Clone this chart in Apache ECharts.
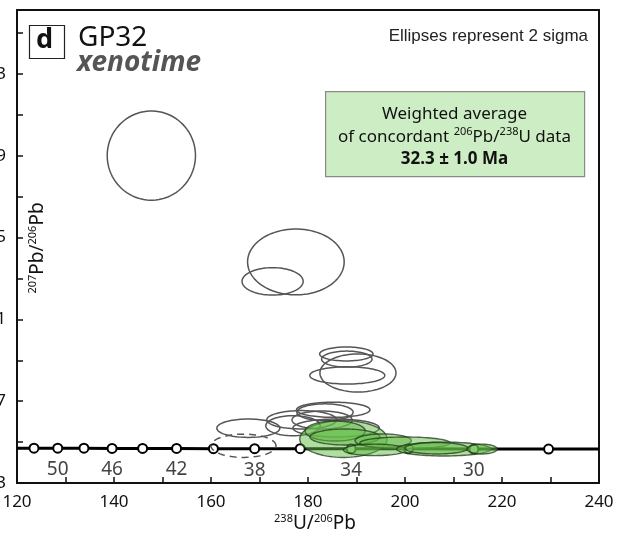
<!DOCTYPE html>
<html>
<head>
<meta charset="utf-8">
<script src="https://cdn.jsdelivr.net/npm/echarts@6/dist/echarts.min.js"></script>
<style>
  html, body { margin: 0; padding: 0; background: #fff; }
  #chart { width: 629px; height: 537px; }
</style>
</head>
<body>
<div id="chart"></div>
<script>
// Concordia age markers (Ma) with their 238U/206Pb and 207Pb/206Pb positions
const concordiaAge    = [52, 50, 48, 46, 44, 42, 40, 38, 36, 34, 32, 30, 28];
const concordiaU238   = [123.5, 128.4, 133.8, 139.6, 145.9, 152.9, 160.5, 169.0, 178.4, 188.9, 200.7, 214.2, 229.6];
const concordiaPb207  = [0.0470, 0.0470, 0.0470, 0.0469, 0.0469, 0.0469, 0.0468, 0.0468, 0.0468, 0.0467, 0.0467, 0.0466, 0.0466];
const labeledAges     = [50, 46, 42, 38, 34, 30];
// Concordia curve ends at the plot edges
const concordiaEndU238  = [120, 240];
const concordiaEndPb207 = [0.0470, 0.0466];

// Discordant analyses (2 sigma ellipses): centre and half-widths
const grayU238   = [147.7, 177.5, 172.7, 187.9, 188.0, 190.3, 188.1, 185.2, 183.5, 178.7, 182.9, 176.9, 167.7, 185.8];
const grayPb207  = [0.1901, 0.1381, 0.1286, 0.0931, 0.0906, 0.0838, 0.0826, 0.0658, 0.0646, 0.0609, 0.0608, 0.0580, 0.0568, 0.0569];
const grayErrU   = [9.1, 9.96, 6.3, 5.5, 5.2, 7.84, 7.73, 7.57, 5.8, 7.2, 6.2, 5.6, 6.5, 8.9];
const grayErrPb  = [0.0218, 0.0161, 0.0067, 0.0034, 0.0039, 0.0093, 0.0042, 0.0037, 0.0041, 0.0045, 0.0044, 0.0049, 0.0045, 0.0044];

// Excluded analysis (dashed)
const dashedU238  = [166.7];
const dashedPb207 = [0.0482];
const dashedErrU  = [6.7];
const dashedErrPb = [0.0057];

// Concordant analyses used in the weighted average
const greenU238  = [187.3, 185.6, 187.6, 195.5, 200.0, 193.8, 208.0, 206.5, 215.9];
const greenPb207 = [0.0515, 0.0554, 0.0525, 0.0507, 0.0496, 0.0462, 0.0466, 0.0470, 0.0466];
const greenErrU  = [9.0, 6.2, 7.2, 5.8, 9.3, 6.5, 9.7, 6.5, 3.1];
const greenErrPb = [0.0090, 0.0049, 0.0039, 0.0033, 0.0029, 0.0028, 0.0034, 0.0028, 0.0024];

// Axes
const xMin = 120, xMax = 240, xStep = 20;
const yMin = 0.03, yMax = 0.2613, yStep = 0.02;

function zip4(a, b, c, d) { return a.map((v, i) => [v, b[i], c[i], d[i]]); }

function ellipseRenderer(style) {
  return function (params, api) {
    const cx = api.value(0), cy = api.value(1), ex = api.value(2), ey = api.value(3);
    const pts = [];
    const n = 90;
    for (let i = 0; i < n; i++) {
      const a = (i / n) * Math.PI * 2;
      pts.push(api.coord([cx + ex * Math.cos(a), cy + ey * Math.sin(a)]));
    }
    return { type: 'polygon', shape: { points: pts }, style: Object.assign({}, style) };
  };
}

const lineX = [concordiaEndU238[0]].concat(concordiaU238, [concordiaEndU238[1]]);
const lineY = [concordiaEndPb207[0]].concat(concordiaPb207, [concordiaEndPb207[1]]);
const lineData = lineX.map((x, i) => [x, lineY[i]]);
const markerData = concordiaU238.map((x, i) => [x, concordiaPb207[i], concordiaAge[i]]);
const labelData = markerData.filter(d => labeledAges.indexOf(d[2]) >= 0);

const supRich = {
  sup: { fontSize: 11, lineHeight: 12, verticalAlign: 'top', fontFamily: 'Noto Sans', fill: '#111' }
};

const chart = echarts.init(document.getElementById('chart'), null, { renderer: 'canvas' });
chart.setOption({
  animation: false,
  backgroundColor: '#fff',
  grid: {
    left: 17, right: 30, top: 10, bottom: 54,
    containLabel: false, outerBoundsMode: 'none',
    show: true, borderColor: '#111', borderWidth: 2, backgroundColor: 'transparent'
  },
  xAxis: {
    type: 'value', min: xMin, max: xMax, interval: xStep,
    axisLine: { show: true, lineStyle: { color: '#111', width: 2 } },
    axisTick: { show: true, inside: true, length: 6, lineStyle: { color: '#111', width: 1.5 } },
    minorTick: { show: true, splitNumber: 2, length: 6, lineStyle: { color: '#111', width: 1.5 } },
    splitLine: { show: false },
    axisLabel: { fontSize: 17, color: '#111', margin: 11, fontFamily: 'Noto Sans' }
  },
  yAxis: {
    type: 'value', min: yMin, max: yMax, interval: yStep,
    axisLine: { show: true, lineStyle: { color: '#111', width: 2 } },
    axisTick: { show: true, inside: true, length: 6, lineStyle: { color: '#111', width: 1.5 } },
    splitLine: { show: false },
    axisLabel: {
      fontSize: 17, color: '#111', margin: 11, fontFamily: 'Noto Sans',
      showMaxLabel: false,
      formatter: function (v) {
        const k = Math.round((v - yMin) / yStep);
        if (Math.abs(v - (yMin + k * yStep)) > 1e-6 || k % 2 !== 0) return '';
        return v.toFixed(2);
      }
    }
  },
  graphic: [
    { type: 'rect', left: 27, top: 23, shape: { width: 35, height: 33 }, style: { fill: 'none', stroke: '#222', lineWidth: 1.2 }, z: 10 },
    { type: 'text', x: 44.5, y: 40, style: { text: 'd', font: 'bold 27px "Noto Sans"', fill: '#111', align: 'center', verticalAlign: 'middle' }, z: 10 },
    { type: 'text', x: 78, y: 38, style: { text: 'GP32', font: '28px "Noto Sans"', fill: '#111', verticalAlign: 'middle' }, z: 10 },
    { type: 'text', x: 77, y: 63, style: { text: 'xenotime', font: 'italic bold 28px "Noto Sans"', fill: '#555', verticalAlign: 'middle' }, z: 10 },
    { type: 'text', x: 588, y: 36, style: { text: 'Ellipses represent 2 sigma', font: '17px "Liberation Sans"', fill: '#222', align: 'right', verticalAlign: 'middle' }, z: 10 },
    { type: 'rect', left: 325, top: 91, shape: { width: 259, height: 85 }, style: { fill: '#cdeec4', stroke: '#8a8a8a', lineWidth: 1.2 }, z: 10 },
    { type: 'text', x: 454.5, y: 114, style: { text: 'Weighted average', font: '17px "Noto Sans"', fill: '#111', align: 'center', verticalAlign: 'middle' }, z: 11 },
    { type: 'text', x: 454.5, y: 137, style: {
        text: 'of concordant {sup|206}Pb/{sup|238}U data', font: '17px "Noto Sans"', fill: '#111', align: 'center', verticalAlign: 'middle', lineHeight: 21,
        rich: supRich }, z: 11 },
    { type: 'text', x: 454.5, y: 159, style: { text: '32.3 ± 1.0 Ma', font: 'bold 17px "Noto Sans"', fill: '#111', align: 'center', verticalAlign: 'middle' }, z: 11 },
    { type: 'text', x: 38, y: 248, rotation: Math.PI / 2, style: {
        text: '{sup|207}Pb/{sup|206}Pb', font: '19px "Noto Sans"', fill: '#111', align: 'center', verticalAlign: 'middle', lineHeight: 22,
        rich: supRich }, z: 10 },
    { type: 'text', x: 315, y: 524, style: {
        text: '{sup|238}U/{sup|206}Pb', font: '19px "Noto Sans"', fill: '#111', align: 'center', verticalAlign: 'middle', lineHeight: 22,
        rich: supRich }, z: 10 }
  ],
  series: [
    {
      type: 'line', data: lineData, showSymbol: false, z: 2,
      lineStyle: { color: '#000', width: 3 }
    },
    {
      type: 'scatter', data: markerData, symbol: 'circle', symbolSize: 9, z: 3,
      itemStyle: { color: '#fff', borderColor: '#000', borderWidth: 2, opacity: 1 }
    },
    {
      type: 'custom', data: zip4(grayU238, grayPb207, grayErrU, grayErrPb), z: 4,
      renderItem: ellipseRenderer({ fill: 'none', stroke: '#555', lineWidth: 1.5 })
    },
    {
      type: 'custom', data: zip4(dashedU238, dashedPb207, dashedErrU, dashedErrPb), z: 4,
      renderItem: ellipseRenderer({ fill: 'none', stroke: '#555', lineWidth: 1.5, lineDash: [7, 5] })
    },
    {
      type: 'custom', data: zip4(greenU238, greenPb207, greenErrU, greenErrPb), z: 5,
      renderItem: ellipseRenderer({ fill: 'rgba(98, 188, 70, 0.5)', stroke: 'rgba(35, 55, 30, 0.75)', lineWidth: 1.4 })
    },
    {
      type: 'scatter', data: labelData, symbolSize: 0, z: 6, silent: true,
      label: { show: true, position: 'bottom', distance: 12, fontSize: 19, color: '#111', fontFamily: 'Noto Sans', formatter: p => String(p.value[2]) }
    }
  ]
});
</script>
</body>
</html>
